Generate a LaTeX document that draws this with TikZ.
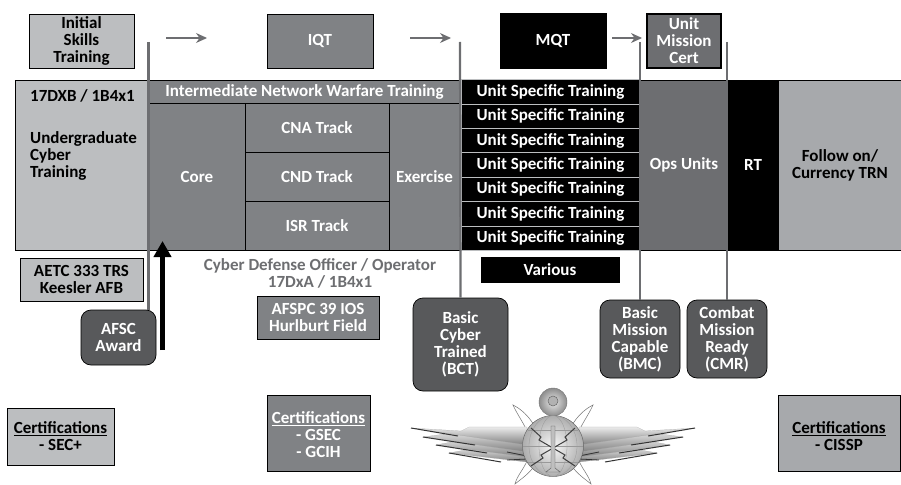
\documentclass[tikz,border=0pt]{standalone}
\usepackage{fontspec}
\setmainfont{Carlito}
\definecolor{lightgrey}{HTML}{BCBEC0}
\definecolor{midgrey}{HTML}{808285}
\definecolor{darkgrey}{HTML}{6D6E71}
\definecolor{slategrey}{HTML}{58595B}
\definecolor{paler}{HTML}{A7A9AC}
\tikzset{
  labeltext/.style={font=\fontsize{17}{17}\selectfont\bfseries},
  cell/.style={shape=rectangle,draw=black,line width=0.7pt,inner sep=0pt,align=center,labeltext},
  lightcell/.style={cell,fill=lightgrey,text=black},
  palecell/.style={cell,fill=paler,text=black},
  midcell/.style={cell,fill=midgrey,text=white},
  opscell/.style={cell,fill=darkgrey,text=white},
  blackcell/.style={cell,fill=black,text=white},
  unitrow/.style={blackcell,draw=lightgrey,minimum width=179pt,minimum height=24.4pt},
  status/.style={cell,fill=slategrey,text=white,rounded corners=10pt},
  gate/.style={draw=darkgrey,line width=2.2pt},
  flow/.style={draw=darkgrey,line width=1.2pt,-{Stealth[length=11pt,width=10pt]}},
  feather/.style={draw=black!35,line width=0.2pt,top color=black!8,bottom color=black!50},
  bolt/.style={draw=black!55,fill=white,line width=0.5pt},
}
\usetikzlibrary{arrows.meta}
\begin{document}
\begin{tikzpicture}[x=1pt,y=-1pt]
   \useasboundingbox (0,0) rectangle (901,484);

   \node[lightcell,minimum width=105pt,minimum height=54pt] (initial) at (81.5,41) {Initial\\Skills\\Training};
   \node[midcell,minimum width=106pt,minimum height=54pt] (iqt) at (320,41) {IQT};
   \node[blackcell,minimum width=106pt,minimum height=55pt] (mqt) at (553,40.5) {MQT};
   \node[opscell,line width=1.3pt,minimum width=74pt,minimum height=54pt] (cert) at (684,41) {Unit\\Mission\\Cert};

   \node[lightcell,minimum width=134pt,minimum height=170pt] (ugrad) at (82,165) {};
   \node[labeltext,anchor=west,inner sep=0pt] (afsc) at (30,96) {17DXB / 1B4x1};
   \node[labeltext,align=left,anchor=north west,inner sep=0pt] (ugradtext) at (30,131) {Undergraduate\\Cyber\\Training};

   \node[midcell,minimum width=311pt,minimum height=23pt] (inter) at (304.5,91.5) {Intermediate Network Warfare Training};
   \node[midcell,minimum width=96pt,minimum height=147pt] (core) at (197,176.5) {Core};
   \node[midcell,minimum width=144pt,minimum height=49pt] (cna) at (317,127.5) {CNA Track};
   \node[midcell,minimum width=144pt,minimum height=49pt] (cnd) at (317,176.5) {CND Track};
   \node[midcell,minimum width=144pt,minimum height=49pt] (isr) at (317,225.5) {ISR Track};
   \node[midcell,minimum width=71pt,minimum height=147pt] (exercise) at (424.5,176.5) {Exercise};

   \foreach \i/\y in {1/92,2/116.3,3/140.7,4/165,5/189.4,6/213.7,7/238.1}
      \node[unitrow] (unit\i) at (550.5,\y) {Unit Specific Training};

   \node[opscell,minimum width=87pt,minimum height=170pt] (ops) at (684,165) {Ops Units};
   \node[blackcell,minimum width=52pt,minimum height=170pt] (rt) at (753,165) {RT};
   \node[palecell,minimum width=123pt,minimum height=170pt] (follow) at (840,165) {Follow on/\\Currency TRN};

   \node[lightcell,minimum width=123pt,minimum height=43pt] (aetc) at (81.5,279.5) {AETC 333 TRS\\Keesler AFB};
   \node[status,minimum width=75pt,minimum height=55pt] (award) at (118.5,337.5) {AFSC\\Award};
   \node[cell,text=darkgrey,draw=none] (officer) at (320,273.5) {Cyber Defense Officer / Operator\\17DxA / 1B4x1};
   \node[midcell,minimum width=122pt,minimum height=43pt] (afspc) at (318,317.5) {AFSPC 39 IOS\\Hurlburt Field};
   \node[blackcell,minimum width=138pt,minimum height=25pt] (various) at (550,269.5) {Various};
   \node[status,minimum width=95pt,minimum height=93pt] (bct) at (460.5,344.5) {Basic\\Cyber\\Trained\\(BCT)};
   \node[status,minimum width=80pt,minimum height=78pt] (bmc) at (640,339) {Basic\\Mission\\Capable\\(BMC)};
   \node[status,minimum width=80pt,minimum height=78pt] (cmr) at (727,339) {Combat\\Mission\\Ready\\(CMR)};

   \node[lightcell,minimum width=107pt,minimum height=57pt] (certa) at (60.5,436.5) {\underline{Certifications}\\- SEC+};
   \node[midcell,minimum width=103pt,minimum height=76pt] (certb) at (318.5,433) {\rule{0pt}{16pt}\underline{Certifications}\\- GSEC\\- GCIH};
   \node[palecell,minimum width=122pt,minimum height=76pt] (certc) at (839,433) {\rule{0pt}{19pt}\underline{Certifications}\\- CISSP};

   \coordinate (gatea) at (148.5,42);
   \coordinate (gateb) at (460,42);
   \coordinate (gatec) at (640,42);
   \coordinate (gated) at (727,42);
   \draw[gate] (gatea) -- (gatea |- award.north);
   \draw[gate] (gateb) -- (bct.north);
   \draw[gate] (gatec) -- (bmc.north);
   \draw[gate] (gated) -- (cmr.north);

   \coordinate (flowa) at (166,38);
   \coordinate (flowb) at (207,38);
   \coordinate (flowc) at (410,38);
   \coordinate (flowd) at (451,38);
   \coordinate (flowe) at (612,38);
   \coordinate (flowf) at (642,38);
   \draw[flow] (flowa) -- (flowb);
   \draw[flow] (flowc) -- (flowd);
   \draw[flow] (flowe) -- (flowf);

   \coordinate (upa) at (162.5,350);
   \coordinate (upb) at (162.5,241);
   \draw[line width=5pt,-{Triangle[length=16pt,width=17pt]}] (upa) -- (upb);

   \foreach \s in {1,-1}{
     \begin{scope}[shift={(553,0)},xscale=\s]
       \draw[bolt] (18,427) .. controls (24,416) and (32,409) .. (40,405) .. controls (36,414) and (30,422) .. (26,431) -- cycle;
       \draw[bolt] (18,465) .. controls (24,474) and (32,479) .. (38,484) .. controls (36,476) and (30,470) .. (26,461) -- cycle;
       \draw[feather] (104,453) -- (66,446) -- (26,446) -- (26,462) -- cycle;
       \draw[feather] (117,445) -- (76,437) -- (26,437) -- (26,457) -- cycle;
       \draw[feather] (130,437) -- (86,431) -- (26,430) -- (26,452) -- cycle;
       \draw[feather] (142,428) -- (92,431) -- (84,427) -- (26,427) -- (26,445) -- cycle;
       \draw[black!80,line width=1pt] (142,428) -- (95,436);
       \draw[black!80,line width=1pt] (130,437) -- (78,445);
       \draw[black!80,line width=1pt] (117,445) -- (66,453);
       \draw[black!80,line width=1pt] (104,453) -- (52,462);
       \draw[black!80,line width=0.8pt] (46,452) -- (26,456);
       \draw[black!80,line width=0.8pt] (46,460) -- (26,459);
     \end{scope}
   }
   \shade[inner color=black!8,outer color=black!45,draw=black!55,line width=0.4pt] (553,402) circle (14);
   \draw[black!60,line width=0.5pt,fill=black!30] (553,401) circle (5);
   \shade[inner color=black!3,outer color=black!32,draw=black!60,line width=0.5pt] (553,446) circle (30.5);
   \draw[black!40,line width=0.3pt] (553,446) ellipse (14 and 30.5);
   \draw[black!40,line width=0.3pt] (553,446) ellipse (24 and 30.5);
   \draw[black!40,line width=0.3pt] (523,446) -- (583,446);
   \draw[black!40,line width=0.3pt] (528,430) -- (578,430);
   \draw[black!40,line width=0.3pt] (528,462) -- (578,462);
   \draw[black!75,line width=1pt] (531,428) -- (541,437) -- (539,440) -- (565,455) -- (563,458) -- (575,466);
   \draw[black!75,line width=1pt] (575,428) -- (565,437) -- (567,440) -- (541,455) -- (543,458) -- (531,466);
   \draw[black!65,fill=black!25,line width=0.4pt] (551,426) -- (555,426) -- (555,468) -- (560,472) -- (546,472) -- (551,468) -- cycle;
\end{tikzpicture}
\end{document}
